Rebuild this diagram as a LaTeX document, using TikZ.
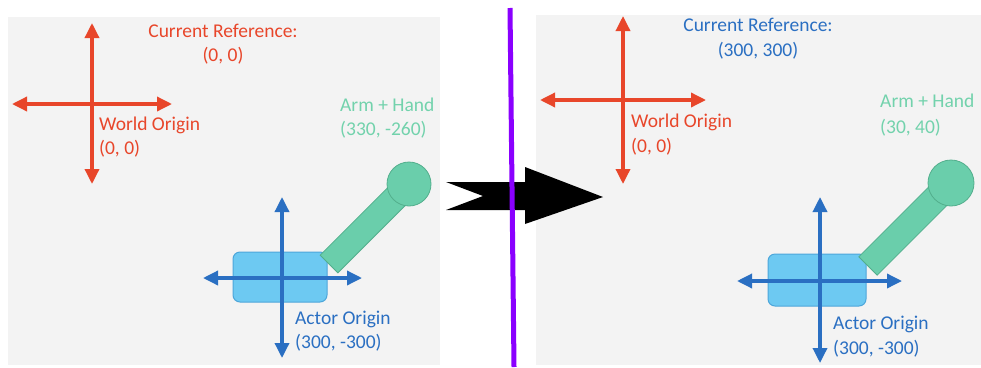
\documentclass[tikz,border=0pt]{standalone}
\usepackage{fontspec}
\setmainfont{Carlito}
\usetikzlibrary{arrows.meta}
\definecolor{axred}{HTML}{E8462A}
\definecolor{axblue}{HTML}{2A6FC2}
\definecolor{armgreen}{HTML}{6ACEAB}
\definecolor{armedge}{HTML}{52AE8C}
\definecolor{lblgreen}{HTML}{72D2AC}
\definecolor{bodyfill}{HTML}{6DC9F2}
\definecolor{bodyedge}{HTML}{4DA6DA}
\definecolor{divider}{HTML}{8A00FF}
\definecolor{panelbg}{HTML}{F3F3F3}
\tikzset{
  axis/.style={line width=3.4pt, {Triangle[length=15pt,width=14pt]}-{Triangle[length=15pt,width=14pt]}},
  lbl/.style={inner sep=0pt, text height=13pt, text depth=4pt, font=\fontsize{19.5}{23}\selectfont},
  panel/.style={fill=panelbg, draw=none},
  bodybox/.style={fill=bodyfill, draw=bodyedge, line width=1pt, rounded corners=7pt},
  armpart/.style={fill=armgreen, draw=armedge, line width=0.8pt},
}
\begin{document}
\begin{tikzpicture}[x=1pt,y=-1pt]
\useasboundingbox (0,0) rectangle (981,367);

% panels
\fill[panel] (8,17) rectangle (440,365);
\fill[panel] (536,15) rectangle (981,365);

% ---------- left: before ----------
\draw[axis, axred] (92,23) -- (92,184);
\draw[axis, axred] (12,104) -- (172,104);
\node[lbl, text=axred, anchor=center] (crefA) at (223,33) {Current Reference:};
\node[lbl, text=axred, anchor=center] (crefAv) at (223,57) {(0, 0)};
\node[lbl, text=axred, anchor=west] (worldA) at (99,126) {World Origin};
\node[lbl, text=axred, anchor=west] (worldAv) at (99,150) {(0, 0)};

\draw[bodybox] (233,252) rectangle (327,302);
\draw[armpart, rotate around={45:(329,264)}] (329,251.5) rectangle (442,276.5);
\draw[armpart] (409,184) circle (22);
\draw[axis, axblue] (282,197) -- (282,358);
\draw[axis, axblue] (203,278) -- (362,278);

\node[lbl, text=lblgreen, anchor=west] (armA) at (340,107) {Arm + Hand};
\node[lbl, text=lblgreen, anchor=west] (armAv) at (340,131) {(330, -260)};
\node[lbl, text=axblue, anchor=west] (actorA) at (295,320) {Actor Origin};
\node[lbl, text=axblue, anchor=west] (actorAv) at (295,344) {(300, -300)};

% ---------- right: after ----------
\draw[axis, axred] (623,16) -- (623,184);
\draw[axis, axred] (540,100) -- (706,100);
\node[lbl, text=axblue, anchor=center] (crefB) at (758,27) {Current Reference:};
\node[lbl, text=axblue, anchor=center] (crefBv) at (758,52) {(300, 300)};
\node[lbl, text=axred, anchor=west] (worldB) at (631,123) {World Origin};
\node[lbl, text=axred, anchor=west] (worldBv) at (631,148) {(0, 0)};

\draw[bodybox] (768,254) rectangle (866,306);
\draw[armpart, rotate around={45:(868,266)}] (868,253) rectangle (985,279);
\draw[armpart] (951,183) circle (23);
\draw[axis, axblue] (820,197) -- (820,363);
\draw[axis, axblue] (737,281) -- (902,281);

\node[lbl, text=lblgreen, anchor=west] (armB) at (880,103) {Arm + Hand};
\node[lbl, text=lblgreen, anchor=west] (armBv) at (880,129) {(30, 40)};
\node[lbl, text=axblue, anchor=west] (actorB) at (833,325) {Actor Origin};
\node[lbl, text=axblue, anchor=west] (actorBv) at (833,350) {(300, -300)};

% transition arrow and divider
\fill[black] (446,182) -- (525,182) -- (525,167) -- (603,197) -- (525,224)
  -- (525,210) -- (446,210) -- (483,196) -- cycle;
\draw[divider, line width=5pt] (510,8) -- (514,367);
\end{tikzpicture}
\end{document}
